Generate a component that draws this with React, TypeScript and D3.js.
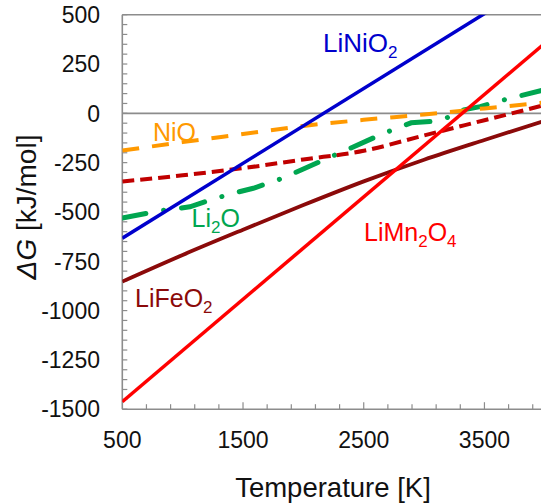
import React from 'react';
import * as d3 from 'd3';

const W = 541;
const H = 504;

// Series data (Temperature [K], ΔG [kJ/mol])
const liMn2O4T = [500, 4000];
const liMn2O4G = [-1462, 355];

const liNiO2T = [500, 4000];
const liNiO2G = [-633, 695];

const liFeO2T = [500, 1000, 1500, 2000, 2500, 3000, 3500, 4000];
const liFeO2G = [-853, -718, -590, -465, -345, -235, -135, -38];

const nioT = [500, 1000, 1500, 2000, 2500, 3000, 3500, 4000];
const nioG = [-189, -146, -105, -64, -33, -6, 25, 55];

const dashRedT = [500, 1000, 1500, 2000, 2500, 3000, 3500, 4000];
const dashRedG = [-346, -314, -278, -234, -190, -112, -35, 42];

const li2OT = [500, 800, 1060, 1227, 1400, 1585, 1800, 1972, 2111, 2389, 2637, 2774, 2893, 3100, 3200, 3299, 3464, 3685, 4000];
const li2OG = [-531, -495, -474, -440, -408, -380, -335, -290, -252, -177, -109, -75, -48, -40, -20, 14, 34, 72, 120];

const yTicks = [500, 250, 0, -250, -500, -750, -1000, -1250, -1500];
const xTicks = [500, 1500, 2500, 3500];

const zip = (t: number[], g: number[]): [number, number][] => t.map((v, i) => [v, g[i]]);

export default function App() {
  const x = d3.scaleLinear().domain([500, 4000]).range([122.3, 544.8]);
  const y = d3.scaleLinear().domain([-1500, 500]).range([409.2, 14.7]);
  const lineLin = d3.line<[number, number]>().x(d => x(d[0])).y(d => y(d[1]));
  const lineSmooth = d3.line<[number, number]>().x(d => x(d[0])).y(d => y(d[1])).curve(d3.curveMonotoneX);

  const x0 = x(500);
  const yTop = y(500);
  const yBot = y(-1500);

  const yMinor = d3.range(-1500, 501, 50);
  const xMinor = d3.range(500, 4001, 200).filter(v => v > 500);
  const xMajorSet = new Set([1500, 2500, 3500]);

  const axisColor = '#8c8c8c';
  const font = 'Liberation Sans, Arial, sans-serif';

  return (
    <svg width={W} height={H} style={{ position: 'absolute', left: 0, top: 0, background: '#fff' }} fontFamily={font}>
      <defs>
        <clipPath id="plot">
          <rect x={x0} y={yTop} width={W - x0} height={yBot - yTop} />
        </clipPath>
      </defs>
      <rect x={0} y={0} width={W} height={H} fill="#fff" />

      {/* top frame and zero line */}
      <line x1={x0} x2={W} y1={yTop} y2={yTop} stroke={axisColor} strokeWidth={1.6} />
      <line x1={x0} x2={W} y1={y(0)} y2={y(0)} stroke={axisColor} strokeWidth={1.6} />

      {/* axes */}
      <line x1={x0} x2={x0} y1={yTop} y2={yBot} stroke={axisColor} strokeWidth={1.6} />
      <line x1={x0} x2={W} y1={yBot} y2={yBot} stroke={axisColor} strokeWidth={1.6} />
      {yMinor.map(v => (
        <line key={'ym' + v} x1={x0} x2={x0 + 5} y1={y(v)} y2={y(v)} stroke={axisColor} strokeWidth={1.2} />
      ))}
      {xMinor.map(v => (
        <line key={'xm' + v} x1={x(v)} x2={x(v)} y1={yBot} y2={yBot - (xMajorSet.has(v) ? 7 : 5)} stroke={axisColor} strokeWidth={1.2} />
      ))}

      {/* tick labels */}
      {yTicks.map(v => (
        <text key={'yl' + v} x={100} y={y(v)} dy="0.36em" textAnchor="end" fontSize={23} fill="#111">
          {v}
        </text>
      ))}
      {xTicks.map(v => (
        <text key={'xl' + v} x={x(v)} y={448.3} textAnchor="middle" fontSize={23} fill="#111">
          {v}
        </text>
      ))}

      {/* axis titles */}
      <text x={333} y={496.5} textAnchor="middle" fontSize={27.5} fill="#111">Temperature [K]</text>
      <text transform={`translate(36,207) rotate(-90)`} textAnchor="middle" fontSize={28} fill="#111">
        <tspan fontStyle="italic">ΔG</tspan> [kJ/mol]
      </text>

      {/* series */}
      <g clipPath="url(#plot)" fill="none">
        <path d={lineLin(zip(li2OT, li2OG)) || ''} stroke="#00A650" strokeWidth={5} strokeDasharray="24,18,0.1,18" strokeLinecap="round" />
        <path d={lineSmooth(zip(dashRedT, dashRedG)) || ''} stroke="#C00000" strokeWidth={4} strokeDasharray="12,6" />
        <path d={lineSmooth(zip(nioT, nioG)) || ''} stroke="#FF9900" strokeWidth={4} strokeDasharray="17,13" />
        <path d={lineSmooth(zip(liFeO2T, liFeO2G)) || ''} stroke="#8B0A0A" strokeWidth={3.8} />
        <path d={lineLin(zip(liNiO2T, liNiO2G)) || ''} stroke="#0000CC" strokeWidth={3.5} />
        <path d={lineLin(zip(liMn2O4T, liMn2O4G)) || ''} stroke="#FF0000" strokeWidth={3.5} />
      </g>

      {/* labels */}
      <text x={323} y={51.7} fontSize={26} fill="#0000CC">
        LiNiO<tspan fontSize={17} dy={6}>2</tspan>
      </text>
      <text x={153} y={141} fontSize={25} fill="#FF9900">NiO</text>
      <text x={191.5} y={226.7} fontSize={25} fill="#00A650">
        Li<tspan fontSize={17} dy={6}>2</tspan><tspan dy={-6}>O</tspan>
      </text>
      <text x={135} y={306.7} fontSize={25} fill="#8B0A0A">
        LiFeO<tspan fontSize={17} dy={6}>2</tspan>
      </text>
      <text x={364} y={241} fontSize={25} fill="#FF0000">
        LiMn<tspan fontSize={17} dy={6}>2</tspan><tspan dy={-6}>O</tspan><tspan fontSize={17} dy={6}>4</tspan>
      </text>
    </svg>
  );
}
